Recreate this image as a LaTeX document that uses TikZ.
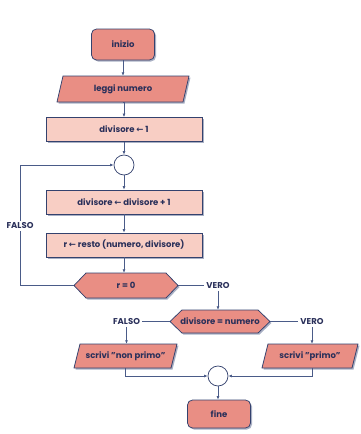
\documentclass[tikz,border=0pt]{standalone}
\usepackage{fontspec}
\setmainfont{Poppins}
\newfontfamily\arrowfont{DejaVu Sans}
\usetikzlibrary{shadows,arrows.meta}
\definecolor{dk}{HTML}{E98E84}
\definecolor{lt}{HTML}{F8CEC4}
\definecolor{bd}{HTML}{34426E}
\definecolor{ln}{HTML}{4A5B88}
\definecolor{tx}{HTML}{2A305A}
\definecolor{sh}{HTML}{A9B0C4}
\newcommand{\larr}{{\arrowfont\bfseries ←}}
\begin{document}
\begin{tikzpicture}[x=1pt,y=-1pt,
  shd/.style={drop shadow={shadow xshift=1.5pt,shadow yshift=-1.5pt,fill=sh,opacity=1}},
  body/.style={draw=bd,line width=0.75pt,shd},
  fnt/.style={text=tx,font=\bfseries\fontsize{8.5}{9}\selectfont},
  term/.style={body,fnt,fill=dk,rounded corners=5pt,minimum width=63pt,inner sep=0pt},
  proc/.style={body,fnt,fill=lt,rectangle,minimum width=156pt,minimum height=24pt,inner sep=0pt},
  txt/.style={fnt,inner sep=0pt},
  lbl/.style={fnt,inner sep=2pt},
  conn/.style={draw=ln,line width=0.75pt},
  arr/.style={conn,-{Latex[length=3.5pt,width=3pt]}},
  jn/.style={circle,draw=bd,fill=white,line width=0.75pt,minimum size=20pt,inner sep=0pt}
]
\useasboundingbox (0,0) rectangle (360,434);
% inizio
\node[term,minimum height=31pt] (inizio) at (123,44.5) {inizio};
% leggi numero
\draw[body,fill=dk] (57,102)--(63,76)--(189,76)--(183,102)--cycle;
\node[txt,minimum width=120pt,minimum height=26pt] (leggi) at (123,89) {leggi numero};
% rectangles
\node[proc] (div1) at (124,129.5) {divisore \larr\ 1};
\node[jn] (c1) at (124,165) {};
\node[proc] (divinc) at (124,202) {divisore \larr\ divisore + 1};
\node[proc] (resto) at (124,245) {r \larr\ resto (numero, divisore)};
% r = 0
\draw[body,fill=dk] (74,285.5)--(86,273)--(166,273)--(178,285.5)--(166,298)--(86,298)--cycle;
\node[txt,minimum width=104pt,minimum height=25pt] (r0) at (126,285.5) {r = 0};
% labels
\node[lbl,fill=white] (f1) at (20,226) {FALSO};
\node[lbl] (v1) at (218,285.5) {VERO};
% divisore = numero
\draw[body,fill=dk] (170,321.5)--(182,310)--(258,310)--(270,321.5)--(258,333)--(182,333)--cycle;
\node[txt,minimum width=100pt,minimum height=23pt] (dn) at (220,321.5) {divisore = numero};
\node[lbl] (f2) at (126.5,321.5) {FALSO};
\node[lbl] (v2) at (312,321.5) {VERO};
% outputs
\draw[body,fill=dk] (74,368)--(80,344)--(177,344)--(171,368)--cycle;
\node[txt,minimum width=97pt,minimum height=24pt] (np) at (125.5,356) {scrivi "non primo"};
\draw[body,fill=dk] (262,368)--(268,344)--(358,344)--(352,368)--cycle;
\node[txt,minimum width=90pt,minimum height=24pt] (pr) at (310,356) {scrivi "primo"};
\node[jn] (c2) at (218,376) {};
\node[term,minimum height=28pt] (fine) at (219,414) {fine};
% connectors
\draw[arr] (inizio.south) -- (leggi.north);
\draw[arr] (leggi.south) -- (leggi.south -| div1.north) -- (div1.north);
\draw[arr] (div1.south) -- (c1.north);
\draw[arr] (c1.south) -- (divinc.north);
\draw[arr] (divinc.south) -- (resto.north);
\draw[arr] (resto.south) -- (resto.south |- r0.north);
\draw[conn] (r0.west) -| (f1.south);
\draw[arr] (f1.north) |- (c1.west);
\draw[conn] (r0.east) -- (v1.west);
\draw[arr] (v1.south) -- (v1.south |- dn.north);
\draw[conn] (dn.west) -- (f2.east);
\draw[conn] (dn.east) -- (v2.west);
\draw[arr] (f2.south) -- (f2.south |- np.north);
\draw[arr] (v2.south) -- (v2.south |- pr.north);
\draw[arr] (np.south) |- (c2.west);
\draw[arr] ([xshift=2pt]pr.south) |- (c2.east);
\draw[arr] (c2.south) -- (c2.south |- fine.north);
\end{tikzpicture}
\end{document}
